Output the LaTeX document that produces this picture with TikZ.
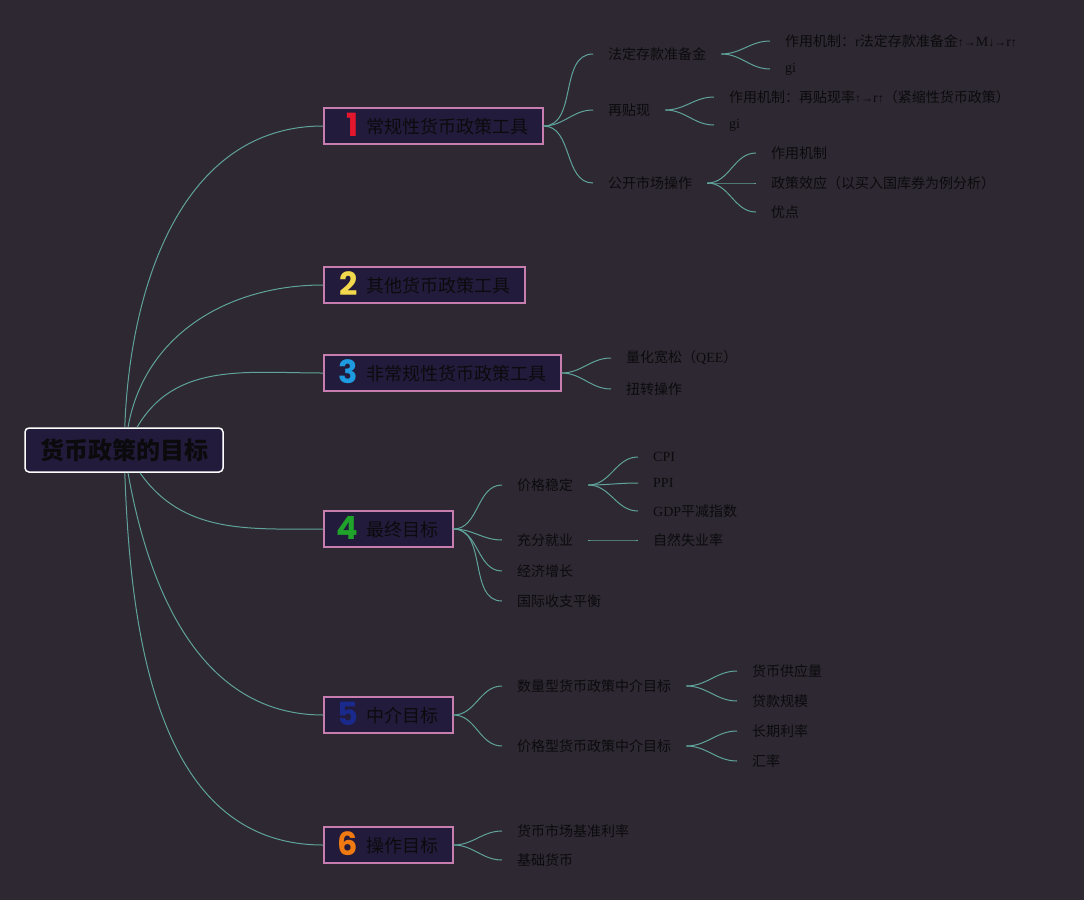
\documentclass[tikz,border=0pt]{standalone}
\usepackage{fontspec}
\setmainfont{Noto Sans CJK SC}
\newfontfamily\lat{Liberation Serif}
\newfontfamily\numf{Poppins}
\usepackage{tikz}
\definecolor{MapBg}{HTML}{2E2832}
\definecolor{MapBox}{HTML}{231B3B}
\definecolor{MapPink}{HTML}{C77DAE}
\definecolor{MapTeal}{HTML}{5FA39B}
\definecolor{MapInk}{HTML}{0B0B0D}
\definecolor{NumRed}{HTML}{E3162E}
\definecolor{NumYellow}{HTML}{F2D84C}
\definecolor{NumBlue}{HTML}{1E9BE0}
\definecolor{NumGreen}{HTML}{1FA32A}
\definecolor{NumNavy}{HTML}{1A2A8C}
\definecolor{NumOrange}{HTML}{F07A12}
\newcommand{\badge}[2]{\makebox[20pt][r]{\raisebox{-3pt}{\numf\bfseries\fontsize{32}{32}\selectfont\color{#1}#2}}\hspace{8pt}}
\newcommand{\arw}[1]{{\lat\fontsize{12}{12}\selectfont #1}}

\begin{document}
\begin{tikzpicture}[x=1pt,y=-1pt]
\tikzset{goalbox/.style={fill=MapBox,draw=white,line width=1.5pt,rounded corners=4pt,minimum width=198pt,minimum height=44pt,text=MapInk,font=\fontsize{24}{26}\selectfont\bfseries},topic/.style={anchor=west,fill=MapBox,draw=MapPink,line width=1.5pt,minimum height=36pt,inner xsep=14.5pt,text height=16pt,text depth=2pt,text=MapInk,font=\fontsize{18}{20}\selectfont},sub/.style={anchor=west,inner xsep=15pt,inner ysep=3pt,text=MapInk,font=\fontsize{14}{16}\selectfont},link/.style={MapTeal,line width=1pt}}
\fill[MapBg](0,0)rectangle(1084,900);
\node[goalbox] (goal) at (124,450) {货币政策的目标};
% first level
\node[topic] (t1) at (323,126) {\badge{NumRed}{1}常规性货币政策工具};
\node[topic] (t2) at (323,285) {\badge{NumYellow}{2}其他货币政策工具};
\node[topic] (t3) at (323,373) {\badge{NumBlue}{3}非常规性货币政策工具};
\node[topic] (t4) at (323,529) {\badge{NumGreen}{4}最终目标};
\node[topic] (t5) at (323,715) {\badge{NumNavy}{5}中介目标};
\node[topic] (t6) at (323,845) {\badge{NumOrange}{6}操作目标};
% 1
\node[sub] (a1) at (593,54) {法定存款准备金};
\node[sub] (a2) at (593,110) {再贴现};
\node[sub] (a3) at (593,183) {公开市场操作};
\node[sub] (a11) at (770,41) {作用机制：{\lat r}法定存款准备金\arw{↑→}{\lat M}\arw{↓→}{\lat r}\arw{↑}};
\node[sub] (a12) at (770,69) {\lat gi};
\node[sub] (a21) at (714,97) {作用机制：再贴现率\arw{↑→}{\lat r}\arw{↑}（紧缩性货币政策）};
\node[sub] (a22) at (714,125) {\lat gi};
\node[sub] (a31) at (756,153) {作用机制};
\node[sub] (a32) at (756,183) {政策效应（以买入国库券为例分析）};
\node[sub] (a33) at (756,212) {优点};
% 3
\node[sub] (c1) at (611,358) {量化宽松（{\lat QEE}）};
\node[sub] (c2) at (611,389) {扭转操作};
% 4
\node[sub] (d1) at (502,485) {价格稳定};
\node[sub] (d2) at (502,540) {充分就业};
\node[sub] (d3) at (502,571) {经济增长};
\node[sub] (d4) at (502,601) {国际收支平衡};
\node[sub] (d11) at (638,457) {\lat CPI};
\node[sub] (d12) at (638,483) {\lat PPI};
\node[sub] (d13) at (638,511) {{\lat GDP}平减指数};
\node[sub] (d21) at (638,540) {自然失业率};
% 5
\node[sub] (e1) at (502,686) {数量型货币政策中介目标};
\node[sub] (e2) at (502,746) {价格型货币政策中介目标};
\node[sub] (e11) at (737,671) {货币供应量};
\node[sub] (e12) at (737,701) {贷款规模};
\node[sub] (e21) at (737,731) {长期利率};
\node[sub] (e22) at (737,761) {汇率};
% 6
\node[sub] (f1) at (502,831) {货币市场基准利率};
\node[sub] (f2) at (502,860) {基础货币};
% links
\draw[link](goal)to[out=88,in=180](t1);
\draw[link](goal)to[out=80,in=180](t2);
\draw[link](goal)to[out=60,in=180](t3);
\draw[link](goal)to[out=-55,in=180](t4);
\draw[link](goal)to[out=-80,in=180](t5);
\draw[link](goal)to[out=-88,in=180](t6);
\foreach \p/\c in {t1/a1,t1/a2,t1/a3,a1/a11,a1/a12,a2/a21,a2/a22,a3/a31,a3/a32,a3/a33,t3/c1,t3/c2,t4/d1,t4/d2,t4/d3,t4/d4,d1/d11,d1/d12,d1/d13,d2/d21,t5/e1,t5/e2,e1/e11,e1/e12,e2/e21,e2/e22,t6/f1,t6/f2}
  \draw[link](\p)to[out=0,in=180](\c);
\end{tikzpicture}
\end{document}
